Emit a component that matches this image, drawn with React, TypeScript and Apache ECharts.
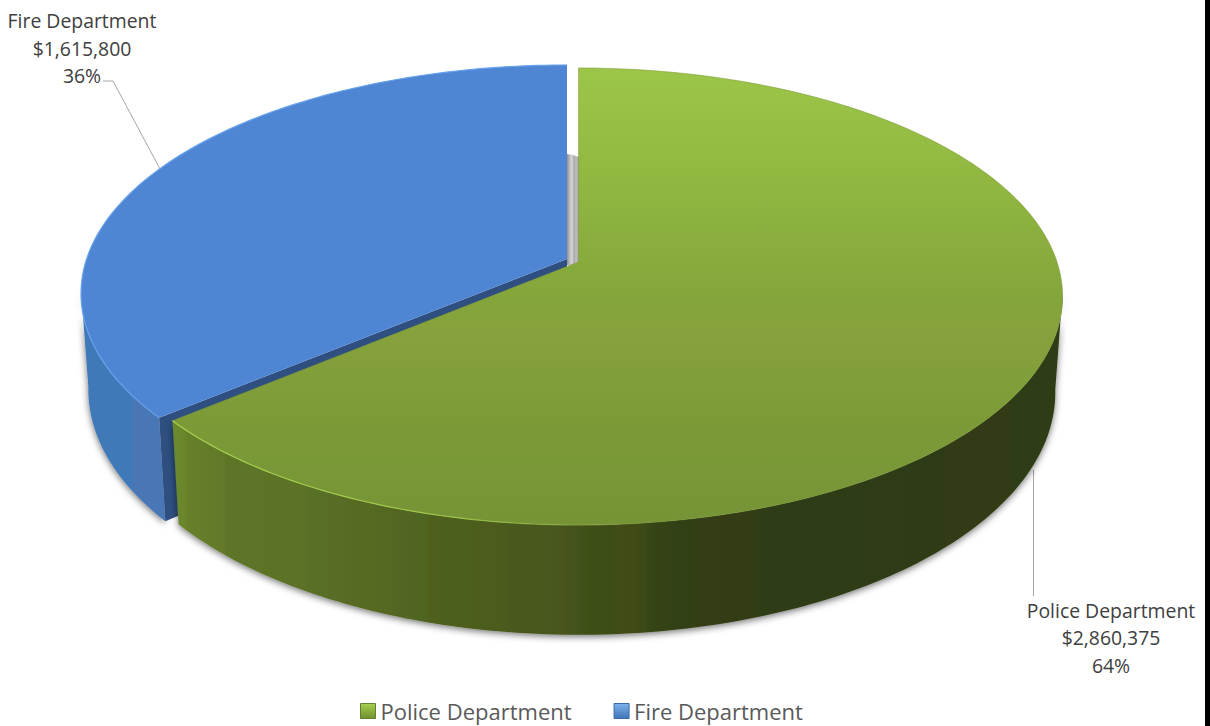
import React, { useEffect, useRef } from "react";
import * as echarts from "echarts";

// Budget split between the two departments
const departments = ["Police Department", "Fire Department"];
const budgets = [2860375, 1615800];
const total = budgets[0] + budgets[1];

// Perspective model of the tilted disc
const PERSPECTIVE = 0.151;
const POLICE_A = 478.4;
const FIRE_A = 480.4;
const TOP_B = 223.3;
const BOTTOM_SCALE_A = 0.985;
const BOTTOM_B = TOP_B * 1.06;
const DEPTH = 94;
const POLICE_APEX: [number, number] = [578.6, 262];
const FIRE_APEX: [number, number] = [567, 259];
const STEP = 1;

const rad = (d: number) => (d * Math.PI) / 180;

function ringPoint(apex: [number, number], a: number, b: number, deg: number): number[] {
  const X = Math.sin(rad(deg));
  const Y = -Math.cos(rad(deg));
  const w = 1 - PERSPECTIVE * Y;
  return [apex[0] + (a * X) / w, apex[1] + (b * Y) / w];
}

function arc(apex: [number, number], a: number, b: number, from: number, to: number): number[][] {
  const pts: number[][] = [];
  const n = Math.max(2, Math.ceil(Math.abs(to - from) / STEP));
  for (let i = 0; i <= n; i++) pts.push(ringPoint(apex, a, b, from + ((to - from) * i) / n));
  return pts;
}

const hGrad = (x0: number, x1: number, stops: [number, string][]) =>
  new echarts.graphic.LinearGradient(
    x0, 0, x1, 0,
    stops.map(([o, color]) => ({ offset: (o - x0) / (x1 - x0), color })),
    true
  );

const vGrad = (y0: number, y1: number, stops: [number, string][]) =>
  new echarts.graphic.LinearGradient(
    0, y0, 0, y1,
    stops.map(([o, color]) => ({ offset: (o - y0) / (y1 - y0), color })),
    true
  );

// Vertical facets along the rim of each slice
const policeWall: [number, string][] = [
  [172, "#6a8a2e"], [186, "#6a852c"], [187, "#66802a"], [225, "#62792a"], [226, "#5c7528"],
  [300, "#5b7228"], [310, "#587028"], [338, "#596c25"], [370, "#566a24"], [402, "#536522"],
  [425, "#4f6520"], [432, "#4f601e"], [490, "#4c5c1d"], [520, "#49591b"], [560, "#47571b"],
  [565, "#48531c"], [590, "#3d5018"], [610, "#3c4e17"], [625, "#424c18"], [645, "#3c4a18"],
  [650, "#364417"], [692, "#314014"], [700, "#343d14"], [755, "#333c13"], [760, "#2e3c13"],
  [940, "#2d3b13"], [950, "#313b13"], [1010, "#303b13"], [1015, "#2e3e12"], [1060, "#2f3e12"],
];
const fireWall: [number, string][] = [
  [84, "#4079b8"], [132, "#4179b8"], [134, "#4a77b5"], [170, "#4876b5"],
];
const gapShade: [number, string][] = [
  [567, "#8e8e8e"], [570, "#c2c2c2"], [572, "#d6d6d6"], [574, "#a8a8a8"], [576, "#bdbdbd"], [579, "#a6a6a6"],
];
const policeTop: [number, string][] = [
  [68, "#9cc648"], [180, "#91b741"], [300, "#84a53b"], [330, "#86a23c"], [420, "#7c9b37"], [525, "#769436"],
];

const WALL_SHADOW = { shadowBlur: 7, shadowColor: "rgba(0,0,0,0.55)", shadowOffsetX: 0, shadowOffsetY: 2 };
const LABEL_FONT = '19.4px "Open Sans"';
const LABEL_COLOR = "#404040";
const LEADER_COLOR = "#a6a6a6";

const labelText = (name: string, value: number) =>
  `${name}\n$${value.toLocaleString("en-US")}\n${Math.round((value / total) * 100)}%`;

const label = (text: string, x: number, y: number) => ({
  type: "text",
  style: {
    text, x, y,
    fill: LABEL_COLOR,
    font: LABEL_FONT,
    lineHeight: 27.5,
    align: "center",
    verticalAlign: "middle",
  },
});

const leader = (points: number[][]) => ({
  type: "polyline",
  shape: { points },
  style: { stroke: LEADER_COLOR, lineWidth: 1, fill: "none" },
});

// Slice order runs clockwise from twelve o'clock: police first, then fire
function renderPolice(_p: unknown, api: any) {
  const value = api.value(0);
  const end = (value / total) * 360;
  const apex = POLICE_APEX;
  const lowApex: [number, number] = [apex[0], apex[1] + DEPTH];
  const topArc = arc(apex, POLICE_A, TOP_B, 0, end);
  const wallTop = arc(apex, POLICE_A, TOP_B, 98, end);
  const wallLow = arc(lowApex, POLICE_A * BOTTOM_SCALE_A, BOTTOM_B, end, 98);
  const rim = arc(apex, POLICE_A, TOP_B, 150, end);
  return {
    type: "group",
    children: [
      leader([[1033.5, 470], [1033.5, 596]]),
      {
        type: "polygon",
        shape: { points: [...wallTop, ...wallLow] },
        style: { fill: hGrad(172, 1060, policeWall), ...WALL_SHADOW },
      },
      {
        type: "polygon",
        shape: { points: [apex, ...topArc] },
        style: { fill: vGrad(68, 525, policeTop), stroke: "#7c9a38", lineWidth: 0.6 },
      },
      {
        type: "polyline",
        shape: { points: rim },
        style: {
          fill: "none",
          lineWidth: 1.2,
          stroke: hGrad(172, 640, [[172, "#a9d24e"], [450, "#9cc449"], [640, "rgba(150,190,70,0)"]]),
        },
      },
      label(labelText(departments[0], value), 1111, 637.5),
      // Black rule down the right side of the page
      {
        type: "polygon",
        shape: { points: [[1205, 0], [1210, 0], [1210, 726], [1205, 726]] },
        style: { fill: "#000000" },
      },
    ],
  };
}

function renderFire(_p: unknown, api: any) {
  const value = api.value(0);
  const start = 360 - (value / total) * 360;
  const apex = FIRE_APEX;
  const lowApex: [number, number] = [apex[0], apex[1] + DEPTH];
  const bottomA = FIRE_A * BOTTOM_SCALE_A;
  const topArc = arc(apex, FIRE_A, TOP_B, start, 360);
  const wallTop = arc(apex, FIRE_A, TOP_B, start, 262);
  const wallLow = arc(lowApex, bottomA, BOTTOM_B, 262, start);
  const cornerTop = ringPoint(apex, FIRE_A, TOP_B, start);
  const cornerLow = ringPoint(lowApex, bottomA, BOTTOM_B, start);
  return {
    type: "group",
    children: [
      {
        type: "polygon",
        shape: { points: [[567, 154], [573, 155], [579, 157], [579, 265], [567, 265]] },
        style: { fill: hGrad(567, 579, gapShade) },
      },
      leader([[103, 81], [113, 81], [160, 169]]),
      {
        type: "polygon",
        shape: { points: [...wallTop, ...wallLow] },
        style: { fill: hGrad(84, 170, fireWall), ...WALL_SHADOW },
      },
      {
        type: "polygon",
        shape: { points: [apex, cornerTop, cornerLow, lowApex] },
        style: { fill: "#2e4f80" },
      },
      {
        type: "polygon",
        shape: { points: [apex, ...topArc] },
        style: { fill: "#4f86d3" },
      },
      {
        type: "polyline",
        shape: { points: topArc },
        style: { fill: "none", lineWidth: 1.2, stroke: "#66a2ec" },
      },
      label(labelText(departments[1], value), 82, 48),
    ],
  };
}

const legendIcon = (name: string, top: string, bottom: string, edge: string) => ({
  name,
  icon: "rect",
  itemStyle: {
    color: new echarts.graphic.LinearGradient(0, 0, 0, 1, [
      { offset: 0, color: top },
      { offset: 1, color: bottom },
    ]),
    borderColor: edge,
    borderWidth: 1,
  },
});

export default function App() {
  const ref = useRef<HTMLDivElement>(null);
  useEffect(() => {
    const chart = echarts.init(ref.current!, null, { renderer: "svg" });
    chart.setOption({
      animation: false,
      backgroundColor: "#ffffff",
      legend: {
        left: 360,
        top: 700,
        padding: 0,
        itemWidth: 15,
        itemHeight: 15,
        itemGap: 42,
        selectedMode: false,
        textStyle: { color: "#595959", fontFamily: "Open Sans", fontSize: 22 },
        data: [
          legendIcon(departments[0], "#a8d052", "#6f902d", "#63812a"),
          legendIcon(departments[1], "#7fb3ee", "#3f74b6", "#3a6aa8"),
        ],
      },
      series: [
        {
          type: "custom",
          name: departments[1],
          coordinateSystem: "none",
          renderItem: renderFire,
          silent: true,
          data: [[budgets[1]]],
        },
        {
          type: "custom",
          name: departments[0],
          coordinateSystem: "none",
          renderItem: renderPolice,
          silent: true,
          data: [[budgets[0]]],
        },
      ],
    });
    return () => chart.dispose();
  }, []);
  return (
    <div
      ref={ref}
      style={{ position: "fixed", left: 0, top: 0, width: 1210, height: 726 }}
    />
  );
}
